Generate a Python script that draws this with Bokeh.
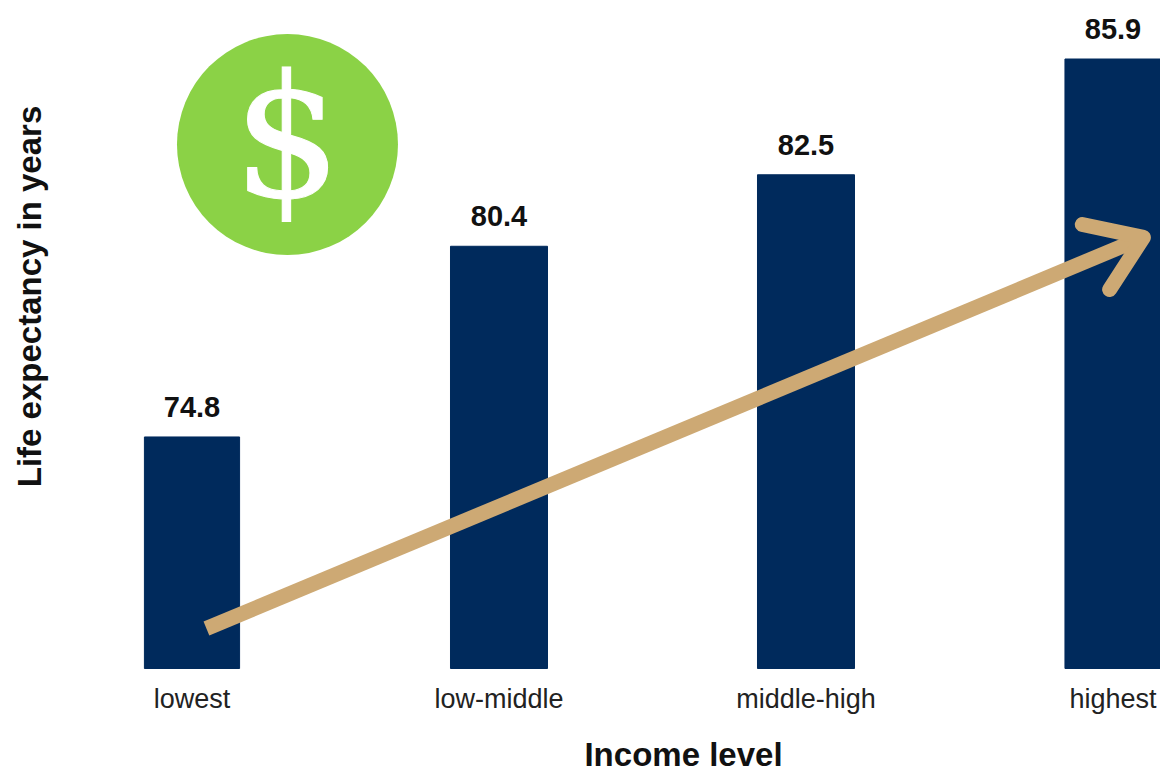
from bokeh.plotting import figure
from bokeh.models import Range1d, ColumnDataSource, Label
from bokeh.embed import file_html
from bokeh.resources import INLINE
from bokeh.core.properties import value
import math

categories = ["lowest", "low-middle", "middle-high", "highest"]
life_expectancy = [74.8, 80.4, 82.5, 85.9]
bar_labels = ["74.8", "80.4", "82.5", "85.9"]
positions = [0, 1, 2, 3]
bar_widths = [0.31, 0.316, 0.316, 0.313]
base = 68.0
x_title = "Income level"
y_title = "Life expectancy in years"

arrow_x = [0.047, 3.099]
arrow_y = [69.175, 80.66]
head_x = [2.900, 3.099, 2.989]
head_y = [81.04, 80.66, 79.13]
badge_x = [0.311]
badge_y = [83.389]

W, H = 1160, 774
BASE_PX = 668
px_per_unit_x = 307.0
px_per_unit_y = 34.05
x_start = -191.5 / px_per_unit_x
x_end = x_start + W / px_per_unit_x
y_end = base + BASE_PX / px_per_unit_y
y_start = y_end - H / px_per_unit_y

p = figure(width=W, height=H, output_backend="svg", toolbar_location=None,
           x_range=Range1d(x_start, x_end), y_range=Range1d(y_start, y_end),
           min_border_left=0, min_border_right=0, min_border_top=0, min_border_bottom=0)
p.outline_line_color = None
p.background_fill_color = "white"
p.xgrid.visible = False
p.ygrid.visible = False
p.xaxis.visible = False
p.yaxis.visible = False

p.vbar(x=positions, top=life_expectancy, bottom=base, width=bar_widths, color="#002A5C")

src = ColumnDataSource(dict(x=positions, y=life_expectancy, t=bar_labels))
p.text(x="x", y="y", text="t", source=src, text_align="center", text_baseline="bottom",
       y_offset=-20, text_font=value("Liberation Sans"), text_font_size="29px",
       text_font_style="bold", text_color="#111111")

# Category labels under the bars
p.text(x=positions, y=[base] * 4, text=categories, text_align="center", text_baseline="middle",
       y_offset=30, text_font=value("Liberation Sans"), text_font_size="27px", text_color="#222222")

# Income badge
p.scatter(x=badge_x, y=badge_y, size=221, marker="circle", color="#8BD246", line_color=None)
p.text(x=badge_x, y=badge_y, text=["$"], text_align="center", text_baseline="middle",
       y_offset=-7, text_font=value("DejaVu Serif"), text_font_size="171px", text_color="white",
       text_outline_color="white")

# Trend arrow
p.line(arrow_x, arrow_y, line_color="#CDA974", line_width=15, line_cap="butt")
p.line(head_x, head_y, line_color="#CDA974", line_width=15, line_cap="round", line_join="round")

p.add_layout(Label(x=683, y=H - 754, x_units="screen", y_units="screen", text=x_title,
                   text_align="center", text_baseline="middle", text_font="Liberation Sans",
                   text_font_size="33px", text_font_style="bold", text_color="#111111"))
p.add_layout(Label(x=29, y=H - 296, x_units="screen", y_units="screen", text=y_title,
                   angle=math.pi / 2, text_align="center", text_baseline="middle",
                   text_font="Liberation Sans", text_font_size="33px", text_font_style="bold",
                   text_color="#111111"))

open("out.html", "w").write(file_html(p, INLINE))
